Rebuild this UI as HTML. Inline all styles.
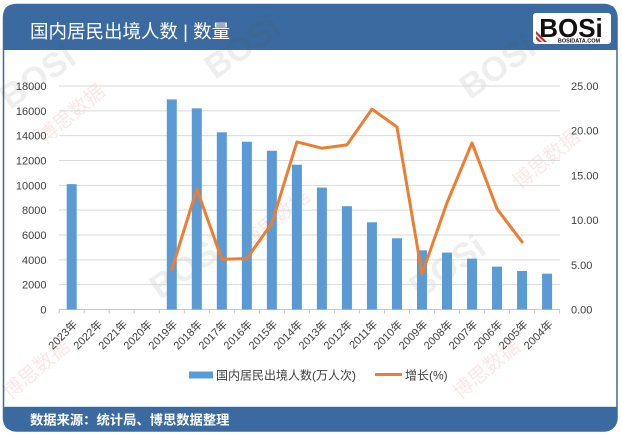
<!DOCTYPE html>
<html>
<head>
<meta charset="utf-8">
<style>
html,body{margin:0;padding:0;background:#fff;}
svg{display:block;}
text{font-family:"Liberation Sans","Noto Sans CJK SC",sans-serif;}
</style>
</head>
<body>
<svg width="622" height="435" viewBox="0 0 622 435" xmlns="http://www.w3.org/2000/svg">
  <!-- card -->
  <rect x="3.5" y="4.5" width="613.5" height="426.5" rx="13" ry="13" fill="#ffffff" stroke="#3a6a9e" stroke-width="1.5"/>
  <!-- header -->
  <path d="M3,50 L3,17 Q3,4 16,4 L604,4 Q617,4 617,17 L617,50 Z" fill="#3a6a9f"/>
  <text x="30" y="38" font-size="18.5" fill="#ffffff">国内居民出境人数 | 数量</text>
  <!-- logo -->
  <rect x="533" y="13" width="78" height="31" rx="3" fill="#ffffff"/>
  <text x="571" y="37" font-size="26" font-weight="bold" fill="#111" text-anchor="middle" font-family="Liberation Sans, sans-serif">BOSi</text>
  <text x="579" y="42.5" font-size="5.5" font-weight="bold" fill="#111" text-anchor="middle">BOSIDATA.COM</text>
  <path d="M536,36 L542,42 L539,42 L536,39 Z" fill="#c0262d"/>
  <path d="M536,31 L547,42 L544,42 L536,34 Z" fill="#c0262d"/>
  <!-- footer -->
  <path d="M3,407 L617,407 L617,418 Q617,431 604,431 L16,431 Q3,431 3,418 Z" fill="#3a6a9f"/>
  <line x1="4" y1="406.5" x2="616" y2="406.5" stroke="#cfe0f0" stroke-width="1"/>
  <text x="30" y="424.5" font-size="13.3" font-weight="bold" fill="#ffffff">数据来源：统计局、博思数据整理</text>

  <!-- watermarks (faint) -->
  <g opacity="0.10" font-weight="bold" fill="#555">
    <text x="0" y="0" font-size="34" transform="translate(10,110) rotate(-35)">BOSi</text>
    <text x="0" y="0" font-size="34" transform="translate(215,80) rotate(-35)">BOSi</text>
    <text x="0" y="0" font-size="34" transform="translate(160,300) rotate(-35)">BOSi</text>
    <text x="0" y="0" font-size="34" transform="translate(470,100) rotate(-35)">BOSi</text>
    <text x="0" y="0" font-size="34" transform="translate(420,300) rotate(-35)">BOSi</text>
  </g>
  <g opacity="0.12" fill="#d04040">
    <text x="0" y="0" font-size="20" transform="translate(45,145) rotate(-40)">博思数据</text>
    <text x="0" y="0" font-size="20" transform="translate(250,250) rotate(-40)">博思数据</text>
    <text x="0" y="0" font-size="20" transform="translate(520,190) rotate(-40)">博思数据</text>
    <text x="0" y="0" font-size="20" transform="translate(10,400) rotate(-40)">博思数据</text>
    <text x="0" y="0" font-size="20" transform="translate(460,400) rotate(-40)">博思数据</text>
  </g>

  <!-- gridlines -->
  <g stroke="#d9d9d9" stroke-width="1">
    <line x1="59" y1="86" x2="560" y2="86"/>
    <line x1="59" y1="110.83" x2="560" y2="110.83"/>
    <line x1="59" y1="135.67" x2="560" y2="135.67"/>
    <line x1="59" y1="160.5" x2="560" y2="160.5"/>
    <line x1="59" y1="185.33" x2="560" y2="185.33"/>
    <line x1="59" y1="210.17" x2="560" y2="210.17"/>
    <line x1="59" y1="235" x2="560" y2="235"/>
    <line x1="59" y1="259.83" x2="560" y2="259.83"/>
    <line x1="59" y1="284.67" x2="560" y2="284.67"/>
  </g>
  <line x1="59" y1="309.5" x2="560" y2="309.5" stroke="#c8c8c8" stroke-width="1"/>
  <!-- category ticks -->
  <g stroke="#c8c8c8" stroke-width="1">
    <line x1="59.2" y1="309.5" x2="59.2" y2="313.5"/>
    <line x1="84.2" y1="309.5" x2="84.2" y2="313.5"/>
    <line x1="109.2" y1="309.5" x2="109.2" y2="313.5"/>
    <line x1="134.2" y1="309.5" x2="134.2" y2="313.5"/>
    <line x1="159.3" y1="309.5" x2="159.3" y2="313.5"/>
    <line x1="184.3" y1="309.5" x2="184.3" y2="313.5"/>
    <line x1="209.3" y1="309.5" x2="209.3" y2="313.5"/>
    <line x1="234.3" y1="309.5" x2="234.3" y2="313.5"/>
    <line x1="259.4" y1="309.5" x2="259.4" y2="313.5"/>
    <line x1="284.4" y1="309.5" x2="284.4" y2="313.5"/>
    <line x1="309.4" y1="309.5" x2="309.4" y2="313.5"/>
    <line x1="334.4" y1="309.5" x2="334.4" y2="313.5"/>
    <line x1="359.4" y1="309.5" x2="359.4" y2="313.5"/>
    <line x1="384.5" y1="309.5" x2="384.5" y2="313.5"/>
    <line x1="409.5" y1="309.5" x2="409.5" y2="313.5"/>
    <line x1="434.5" y1="309.5" x2="434.5" y2="313.5"/>
    <line x1="459.5" y1="309.5" x2="459.5" y2="313.5"/>
    <line x1="484.5" y1="309.5" x2="484.5" y2="313.5"/>
    <line x1="509.6" y1="309.5" x2="509.6" y2="313.5"/>
    <line x1="534.6" y1="309.5" x2="534.6" y2="313.5"/>
    <line x1="559.6" y1="309.5" x2="559.6" y2="313.5"/>
  </g>

  <!-- left axis labels -->
  <g font-size="11" fill="#404040" text-anchor="end">
    <text x="46.5" y="90">18000</text>
    <text x="46.5" y="114.8">16000</text>
    <text x="46.5" y="139.7">14000</text>
    <text x="46.5" y="164.5">12000</text>
    <text x="46.5" y="189.3">10000</text>
    <text x="46.5" y="214.2">8000</text>
    <text x="46.5" y="239">6000</text>
    <text x="46.5" y="263.8">4000</text>
    <text x="46.5" y="288.7">2000</text>
    <text x="46.5" y="313.5">0</text>
  </g>
  <!-- right axis labels -->
  <g font-size="11" fill="#404040">
    <text x="571" y="90">25.00</text>
    <text x="571" y="134.7">20.00</text>
    <text x="571" y="179.4">15.00</text>
    <text x="571" y="224.1">10.00</text>
    <text x="571" y="268.8">5.00</text>
    <text x="571" y="313.5">0.00</text>
  </g>

  <!-- bars -->
  <g fill="#5b9bd5">
    <rect x="66.7" y="184.14" width="10" height="125.36"/>
    <rect x="166.78" y="99.40" width="10" height="210.10"/>
    <rect x="191.8" y="108.36" width="10" height="201.14"/>
    <rect x="216.82" y="132.28" width="10" height="177.22"/>
    <rect x="241.84" y="141.71" width="10" height="167.79"/>
    <rect x="266.86" y="150.74" width="10" height="158.76"/>
    <rect x="291.88" y="164.73" width="10" height="144.77"/>
    <rect x="316.9" y="187.58" width="10" height="121.92"/>
    <rect x="341.92" y="206.22" width="10" height="103.28"/>
    <rect x="366.94" y="222.27" width="10" height="87.23"/>
    <rect x="391.96" y="238.24" width="10" height="71.26"/>
    <rect x="416.98" y="250.32" width="10" height="59.18"/>
    <rect x="442.0" y="252.58" width="10" height="56.92"/>
    <rect x="467.02" y="258.65" width="10" height="50.85"/>
    <rect x="492.04" y="266.64" width="10" height="42.86"/>
    <rect x="517.06" y="270.97" width="10" height="38.53"/>
    <rect x="542.08" y="273.68" width="10" height="35.82"/>
  </g>

  <!-- growth line -->
  <polyline fill="none" stroke="#ed7d31" stroke-width="3" stroke-linejoin="round" stroke-linecap="round"
    points="171.78,269.63 196.8,188.9 221.82,259.26 246.84,258.63 271.86,223.05 296.88,141.96 321.9,148.22 346.92,144.91 371.94,109.15 396.96,126.95 421.98,274.01 447.0,202.76 472.02,142.95 497.04,208.93 522.06,241.91"/>

  <!-- x labels -->
  <g font-size="11" fill="#404040" text-anchor="end">
    <text transform="translate(78,325) rotate(-45)">2023年</text>
    <text transform="translate(103,325) rotate(-45)">2022年</text>
    <text transform="translate(128,325) rotate(-45)">2021年</text>
    <text transform="translate(153.1,325) rotate(-45)">2020年</text>
    <text transform="translate(178.1,325) rotate(-45)">2019年</text>
    <text transform="translate(203.1,325) rotate(-45)">2018年</text>
    <text transform="translate(228.1,325) rotate(-45)">2017年</text>
    <text transform="translate(253.1,325) rotate(-45)">2016年</text>
    <text transform="translate(278.2,325) rotate(-45)">2015年</text>
    <text transform="translate(303.2,325) rotate(-45)">2014年</text>
    <text transform="translate(328.2,325) rotate(-45)">2013年</text>
    <text transform="translate(353.2,325) rotate(-45)">2012年</text>
    <text transform="translate(378.2,325) rotate(-45)">2011年</text>
    <text transform="translate(403.3,325) rotate(-45)">2010年</text>
    <text transform="translate(428.3,325) rotate(-45)">2009年</text>
    <text transform="translate(453.3,325) rotate(-45)">2008年</text>
    <text transform="translate(478.3,325) rotate(-45)">2007年</text>
    <text transform="translate(503.3,325) rotate(-45)">2006年</text>
    <text transform="translate(528.4,325) rotate(-45)">2005年</text>
    <text transform="translate(553.4,325) rotate(-45)">2004年</text>
  </g>

  <!-- legend -->
  <rect x="189" y="371.5" width="24" height="7" fill="#5b9bd5"/>
  <text x="216" y="379.5" font-size="12" fill="#404040">国内居民出境人数(万人次)</text>
  <line x1="375" y1="374.5" x2="402" y2="374.5" stroke="#ed7d31" stroke-width="3"/>
  <text x="405" y="379.5" font-size="12" fill="#404040">增长(%)</text>
</svg>
</body>
</html>
